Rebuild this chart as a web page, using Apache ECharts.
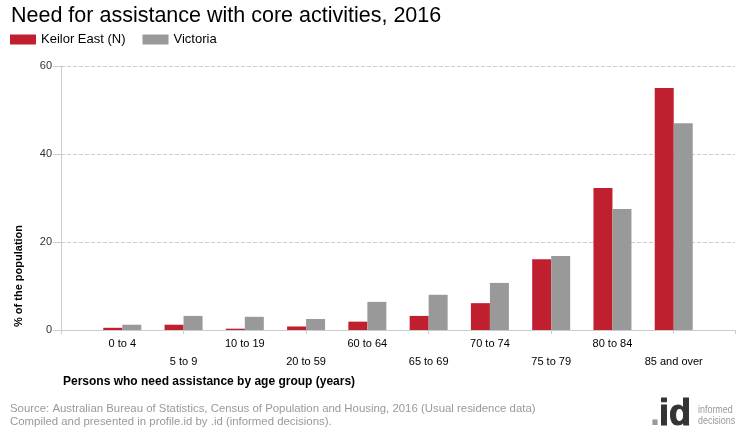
<!DOCTYPE html>
<html><head><meta charset="utf-8">
<script src="https://cdn.jsdelivr.net/npm/echarts@6/dist/echarts.min.js"></script>
<style>html,body{margin:0;padding:0;background:#fff}#c{width:740px;height:440px}</style>
</head><body><div id="c"></div>
<script>
var categories = ['0 to 4','5 to 9','10 to 19','20 to 59','60 to 64','65 to 69','70 to 74','75 to 79','80 to 84','85 and over'];
var keilorEast = [0.5, 1.2, 0.3, 0.8, 1.9, 3.2, 6.1, 16.1, 32.3, 55.0];
var victoria = [1.2, 3.2, 3.0, 2.5, 6.4, 8.0, 10.7, 16.8, 27.5, 47.0];
var yTicks = [0, 20, 40, 60];
var F = '"Liberation Sans", Arial, sans-serif';
var axisCats = [''].concat(categories, ['']);
var pad = function(arr){ return ['-'].concat(arr, ['-']); };
var chart = echarts.init(document.getElementById('c'), null, {renderer:'canvas'});
chart.setOption({
  animation:false,
  textStyle:{fontFamily:F},
  title:{text:'Need for assistance with core activities, 2016', left:6, top:0,
    textStyle:{fontFamily:F, fontSize:21.5, fontWeight:'normal', color:'#000'}},
  legend:{left:5, top:28, itemWidth:26, itemHeight:10, itemGap:17, icon:'rect',
    textStyle:{fontFamily:F, fontSize:13, color:'#000'},
    data:['Keilor East (N)','Victoria']},
  grid:{left:61, right:5, top:66, bottom:110, containLabel:false},
  xAxis:{type:'category', data:axisCats, boundaryGap:false,
    axisLine:{lineStyle:{color:'#ccc'}},
    axisTick:{show:true, length:4, lineStyle:{color:'#ccc'},
      interval:function(i){ return i%2===0 || i===axisCats.length-1; }},
    axisLabel:{interval:0, fontSize:11, color:'#000', lineHeight:18, margin:5,
      formatter:function(v,i){ return i%2===0 ? '\n'+v : v; }}},
  yAxis:{type:'value', min:yTicks[0], max:yTicks[yTicks.length-1], interval:20,
    axisLine:{show:true, lineStyle:{color:'#ccc'}},
    axisTick:{show:true, length:8, lineStyle:{color:'#ccc'}},
    axisLabel:{fontSize:11, color:'#333', margin:9},
    splitLine:{lineStyle:{color:'#ccc', type:'dashed'}}},
  series:[
    {name:'Keilor East (N)', type:'bar', data:pad(keilorEast), barWidth:19, barGap:'0%', itemStyle:{color:'#c01f2f'}},
    {name:'Victoria', type:'bar', data:pad(victoria), barWidth:19, itemStyle:{color:'#999999'}}
  ],
  graphic:[
    {type:'text', left:63, top:376, style:{text:'Persons who need assistance by age group (years)', font:'bold 12px '+F, fill:'#000'}},
    {type:'text', x:13, y:327, rotation:Math.PI/2, style:{text:'% of the population', font:'bold 11px '+F, fill:'#000'}},
    {type:'text', left:10, top:402, style:{text:'Source: Australian Bureau of Statistics, Census of Population and Housing, 2016 (Usual residence data)\nCompiled and presented in profile.id by .id (informed decisions).', font:'11.4px '+F, fill:'#999', lineHeight:13}},
    {type:'text', x:650, y:397, style:{text:'.', fontSize:36, fontWeight:'bold', fontFamily:'Liberation Sans', fill:'#999'}},
    {type:'text', x:659, y:397, style:{text:'id', fontSize:36, fontWeight:'bold', fontFamily:'Liberation Sans', fill:'#333', stroke:'#333', lineWidth:1}},
    {type:'text', x:698, y:405, scaleX:0.85, style:{text:'informed\ndecisions', font:'10.5px '+F, fill:'#999', lineHeight:11}}
  ]
});
</script></body></html>
